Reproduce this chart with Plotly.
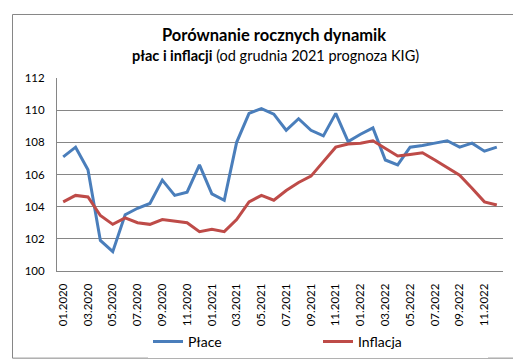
import plotly.graph_objects as go

months = [f"{m:02d}.{y}" for y in (2020, 2021, 2022) for m in range(1, 13)]
tick_labels = [months[i] for i in range(0, 36, 2)]

place = [107.1, 107.7, 106.3, 101.9, 101.2, 103.5, 103.9, 104.2, 105.65, 104.7, 104.9, 106.6,
         104.8, 104.4, 108.0, 109.8, 110.1, 109.75, 108.75, 109.47, 108.75, 108.4, 109.8, 108.05,
         108.5, 108.9, 106.9, 106.6, 107.7, 107.8, 107.95, 108.1, 107.7, 107.95, 107.45, 107.7]
inflacja = [104.3, 104.7, 104.6, 103.45, 102.9, 103.3, 103.0, 102.9, 103.2, 103.1, 103.0, 102.45,
            102.6, 102.45, 103.2, 104.3, 104.7, 104.4, 105.0, 105.5, 105.9, 106.8, 107.7, 107.9,
            107.95, 108.1, 107.6, 107.15, 107.25, 107.35, 106.9, 106.4, 105.95, 105.15, 104.3, 104.1]

W, H = 521, 362
L, R, T, B = 49, 26, 70, 96
pw, ph = W - L - R, H - T - B

def px_x(x):
    return (x - L) / pw

def px_y(y):
    return (H - B - y) / ph

font = "Lato, 'Open Sans', sans-serif"

fig = go.Figure()
fig.add_trace(go.Scatter(x=months, y=place, name="Płace", mode="lines",
                         line=dict(color="#4A7EBB", width=3)))
fig.add_trace(go.Scatter(x=months, y=inflacja, name="Inflacja", mode="lines",
                         line=dict(color="#BE4B48", width=3)))

fig.update_layout(
    width=W, height=H,
    margin=dict(l=L, r=R, t=T, b=B),
    paper_bgcolor="white", plot_bgcolor="white",
    font=dict(family=font, size=12, color="#000000"),
    showlegend=True,
    legend=dict(orientation="h", x=px_x(140), xanchor="left", y=px_y(338), yanchor="middle",
                font=dict(size=14, family=font), entrywidth=125, entrywidthmode="pixels"),
    xaxis=dict(type="category", tickmode="array", tickvals=tick_labels, ticktext=tick_labels,
               tickangle=-90, showgrid=False, showline=True, linecolor="#868686", linewidth=1,
               ticks="", tickfont=dict(size=11.5), range=[-0.5, 35.5], ticklabelstandoff=7),
    yaxis=dict(range=[100, 112], dtick=2, showgrid=True, gridcolor="#868686", gridwidth=1,
               showline=True, linecolor="#868686", linewidth=1, ticks="", zeroline=False,
               tickfont=dict(size=11.5), ticklabelstandoff=9),
    annotations=[
        dict(text="<b>Porównanie rocznych dynamik</b>", x=px_x(266), y=px_y(26),
             xref="paper", yref="paper", showarrow=False, font=dict(size=16.5, family=font),
             xanchor="center", yanchor="middle"),
        dict(text="<b>płac i inflacji</b> (od grudnia 2021 prognoza KIG)", x=px_x(267), y=px_y(47),
             xref="paper", yref="paper", showarrow=False, font=dict(size=14.5, family=font),
             xanchor="center", yanchor="middle"),
    ],
    shapes=[dict(type="rect", xref="paper", yref="paper",
                 x0=px_x(4.5), x1=px_x(512.5), y0=px_y(354.5), y1=px_y(5.5),
                 line=dict(color="#868686", width=1), fillcolor="rgba(0,0,0,0)", layer="below")],
)

fig.write_html("out.html")
